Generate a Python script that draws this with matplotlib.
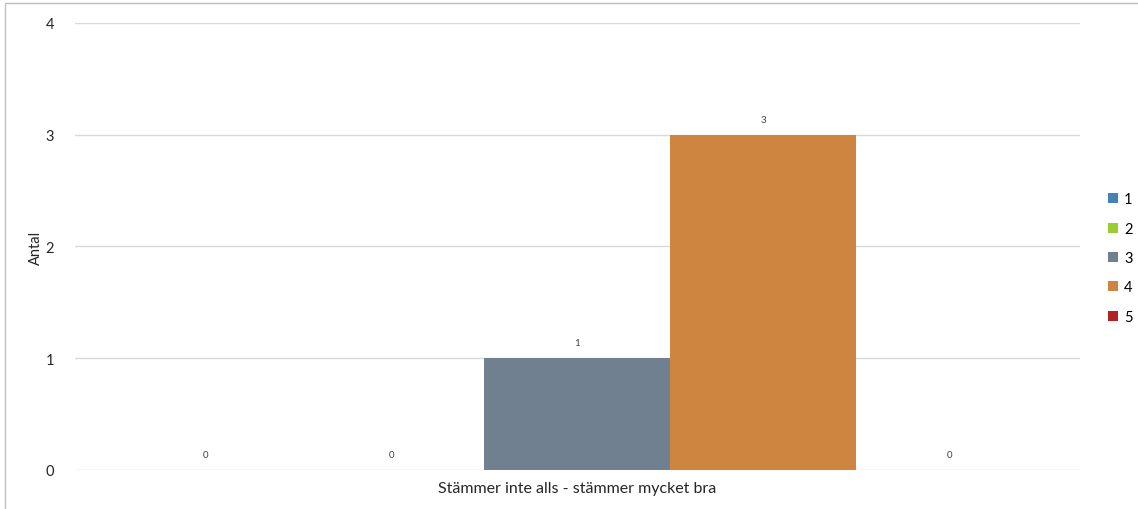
import matplotlib.pyplot as plt
import numpy as np
from matplotlib.patches import Rectangle

plt.rcParams['font.family'] = ['Lato', 'DejaVu Sans']

# en kategori, fem svarsalternativ
category = 'Stämmer inte alls - stämmer mycket bra'
series = ['1', '2', '3', '4', '5']
counts = [0, 0, 1, 3, 0]
colors = ['#4682B4', '#9ACD32', '#708090', '#CD853F', '#B22222']

fig = plt.figure(figsize=(11.38, 5.10), dpi=100)
ax = fig.add_axes([0.0659, 0.0765, 0.883, 0.8765])

# ram runt diagrammet
fig.patches.append(Rectangle((5 / 1138, -0.01), 1.1, 1 - 4 / 510 + 0.01,
                             transform=fig.transFigure, fill=False,
                             edgecolor='#bfbfbf', linewidth=1))

group_w = 930 / 1005
bar_w = group_w / len(series)
x0 = -group_w / 2 + bar_w / 2

for i, (name, val, col) in enumerate(zip(series, counts, colors)):
    xpos = x0 + i * bar_w
    ax.bar(xpos, val, width=bar_w, color=col, label=name, zorder=3)
    ax.text(xpos, val + 0.1, str(val), ha='center', va='bottom',
            fontsize=7, color='#404040')

ax.set_xlim(-0.5, 0.5)
ax.set_ylim(0, 4)
ax.set_yticks([0, 1, 2, 3, 4])
ax.set_xticks([0])
ax.tick_params(axis='both', length=0, labelsize=10.5, colors='#262626')
ax.tick_params(axis='y', pad=15)
ax.tick_params(axis='x', pad=8)
ax.set_xticklabels([category], fontsize=11.5, color='#262626')
ax.grid(axis='y', color='#d9d9d9', linewidth=1, zorder=0)
for s in ax.spines.values():
    s.set_visible(False)

ax.set_ylabel('Antal', fontsize=10.5, color='#262626', labelpad=2)

leg = ax.legend(loc='center left', bbox_to_anchor=(1.015, 0.474), frameon=False,
                fontsize=10.5, handlelength=0.7, handleheight=0.7,
                handletextpad=0.4, labelspacing=1.05)

fig.savefig('out.png', dpi=100)
